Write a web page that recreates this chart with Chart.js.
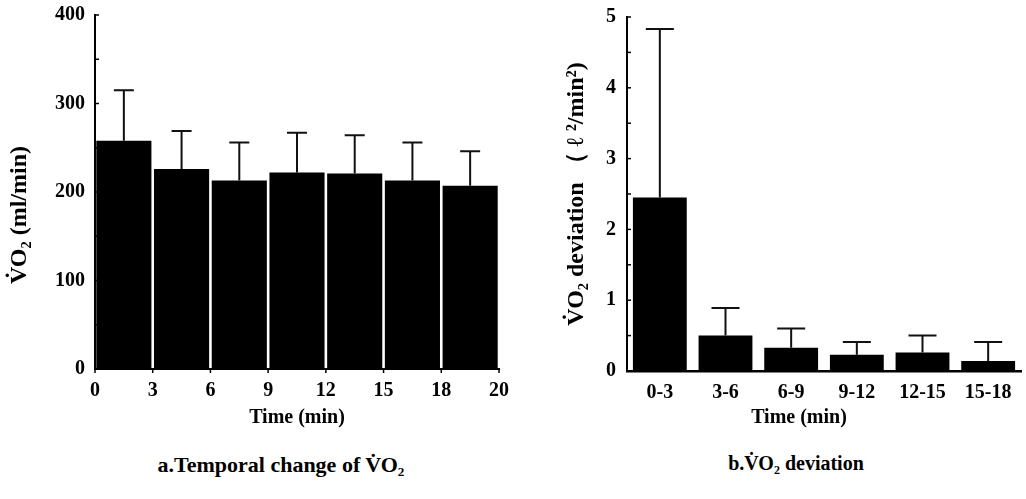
<!DOCTYPE html>
<html>
<head>
<meta charset="utf-8">
<script src="https://cdn.jsdelivr.net/npm/chart.js@4.4.1/dist/chart.umd.min.js"></script>
<style>
  html, body { margin: 0; padding: 0; background: #fff; }
  body { width: 1026px; height: 499px; position: relative; overflow: hidden; }
  .panel { position: absolute; top: 0; width: 513px; height: 440px; }
  #panelA { left: 0; }
  #panelB { left: 513px; }
  .caption {
    position: absolute; top: 452px; white-space: nowrap;
    font: bold 21px "Liberation Serif", "DejaVu Serif", serif; color: #000;
    transform: translateX(-50%);
  }
</style>
</head>
<body>
<div class="panel" id="panelA"><canvas id="chartA" width="513" height="440"></canvas></div>
<div class="panel" id="panelB"><canvas id="chartB" width="513" height="440"></canvas></div>
<div class="caption" style="left:281px;font-size:22px">a.Temporal change of V̇O₂</div>
<div class="caption" style="left:796px;font-size:20px">b.V̇O₂ deviation</div>
<script>
// Panel a: VO2 per 3-minute interval (mean and SD, ml/min)
const intervalEdges = ['0', '3', '6', '9', '12', '15', '18', '20'];
const vo2Mean = [258, 226, 213, 222, 221, 213, 207];
const vo2SD = [57, 43, 43, 45, 43, 43, 39];
const vo2Ticks = [0, 100, 200, 300, 400];

// Panel b: VO2 deviation per interval (mean and SD)
const devCategories = ['0-3', '3-6', '6-9', '9-12', '12-15', '15-18'];
const devMean = [2.45, 0.50, 0.33, 0.23, 0.26, 0.14];
const devSD = [2.38, 0.39, 0.27, 0.18, 0.24, 0.27];
const devTicks = [0, 1, 2, 3, 4, 5];

const SERIF = '"Liberation Serif", "DejaVu Serif", serif';
const tickFont = { family: SERIF, size: 20, weight: 'bold' };

// Upward-only error bars with a cap, plus small inward tick marks and axis titles
const decorPlugin = {
  id: 'decor',
  afterDatasetsDraw(chart, args, opts) {
    const ctx = chart.ctx;
    const yScale = chart.scales.y;
    const meta = chart.getDatasetMeta(0);
    const data = chart.data.datasets[0].data;
    ctx.save();
    ctx.strokeStyle = '#111';
    ctx.lineWidth = 2;
    meta.data.forEach((bar, i) => {
      const top = yScale.getPixelForValue(data[i] + opts.sd[i]);
      ctx.beginPath();
      ctx.moveTo(bar.x, bar.y);
      ctx.lineTo(bar.x, top);
      ctx.moveTo(bar.x - opts.cap / 2, top);
      ctx.lineTo(bar.x + opts.cap / 2, top);
      ctx.stroke();
    });
    // inward minor/major ticks on the value axis
    ctx.lineWidth = 1.5;
    ctx.strokeStyle = '#000';
    const ax = chart.chartArea.left;
    for (let v = yScale.min; v <= yScale.max + 1e-9; v += opts.minorStep) {
      const py = yScale.getPixelForValue(v);
      ctx.beginPath();
      ctx.moveTo(ax, py);
      ctx.lineTo(ax + 4, py);
      ctx.stroke();
    }
    // downward ticks at interval edges
    if (opts.edgeScale) {
      const xs = chart.scales[opts.edgeScale];
      const by = chart.chartArea.bottom;
      for (let i = 0; i <= xs.max; i++) {
        const px = xs.getPixelForValue(i);
        ctx.beginPath();
        ctx.moveTo(px, by);
        ctx.lineTo(px, by + 4);
        ctx.stroke();
      }
    }
    ctx.restore();
  },
  afterDraw(chart, args, opts) {
    const ctx = chart.ctx;
    ctx.save();
    ctx.fillStyle = '#000';
    ctx.textAlign = 'center';
    ctx.textBaseline = 'middle';
    (opts.titles || []).forEach(t => {
      ctx.save();
      ctx.font = 'bold ' + t.size + 'px ' + SERIF;
      ctx.translate(t.x, t.y);
      if (t.rotate) ctx.rotate(-Math.PI / 2);
      ctx.fillText(t.text, 0, 0);
      ctx.restore();
    });
    ctx.restore();
  }
};

// Fixed axis box size; the layout padding alone decides the plot edges
function fixedBox(width, height) {
  return s => {
    if (width != null) s.width = width;
    if (height != null) s.height = height;
    s.paddingTop = 0;
    s.paddingBottom = 0;
    s.paddingLeft = 0;
    s.paddingRight = 0;
  };
}

// ---- Panel a ----
new Chart(document.getElementById('chartA'), {
  type: 'bar',
  data: {
    labels: intervalEdges.slice(0, vo2Mean.length).map((e, i) => e + '-' + intervalEdges[i + 1]),
    datasets: [{
      data: vo2Mean,
      backgroundColor: '#000',
      borderWidth: 0,
      barPercentage: 0.955,
      categoryPercentage: 1.0
    }]
  },
  options: {
    responsive: false,
    animation: false,
    events: [],
    layout: { padding: { left: 0, top: 15, right: 14, bottom: 0 } },
    plugins: {
      legend: { display: false },
      tooltip: { enabled: false },
      decor: {
        sd: vo2SD, cap: 20, minorStep: 50, edgeScale: 'xe',
        titles: [
          { text: 'V̇O₂ (ml/min)', x: 20, y: 215, size: 24, rotate: true },
          { text: 'Time (min)', x: 297, y: 418, size: 20 }
        ]
      }
    },
    scales: {
      x: { type: 'category', display: false, offset: true },
      xe: {
        type: 'linear', position: 'bottom', offset: false,
        min: 0, max: intervalEdges.length - 1,
        afterBuildTicks: s => { s.ticks = intervalEdges.map((_, i) => ({ value: i })); },
        afterFit: fixedBox(null, 71),
        ticks: {
          callback: (v) => intervalEdges[v],
          font: tickFont, color: '#000', padding: 10, maxRotation: 0, autoSkip: false
        },
        grid: { display: false, drawTicks: false, offset: false },
        border: { display: true, color: '#000', width: 2 }
      },
      y: {
        min: 0, max: 400,
        afterBuildTicks: s => { s.ticks = vo2Ticks.map(v => ({ value: v })); },
        afterFit: fixedBox(95, null),
        ticks: { font: tickFont, color: '#000', padding: 10 },
        grid: { display: false, drawTicks: false },
        border: { display: true, color: '#000', width: 2 }
      }
    }
  },
  plugins: [decorPlugin]
});

// ---- Panel b ----
new Chart(document.getElementById('chartB'), {
  type: 'bar',
  data: {
    labels: devCategories,
    datasets: [{
      data: devMean,
      backgroundColor: '#000',
      borderWidth: 0,
      barPercentage: 0.82,
      categoryPercentage: 1.0
    }]
  },
  options: {
    responsive: false,
    animation: false,
    events: [],
    layout: { padding: { left: 0, top: 17, right: 5, bottom: 0 } },
    plugins: {
      legend: { display: false },
      tooltip: { enabled: false },
      decor: {
        sd: devSD, cap: 28, minorStep: 0.5,
        titles: [
          { text: 'V̇O₂ deviation （ ℓ ²/min²)', x: 64, y: 194, size: 24, rotate: true },
          { text: 'Time (min)', x: 286, y: 418, size: 20 }
        ]
      }
    },
    scales: {
      x: {
        type: 'category', offset: true,
        afterFit: fixedBox(null, 69),
        ticks: { font: tickFont, color: '#000', padding: 10, maxRotation: 0, autoSkip: false },
        grid: { display: false, drawTicks: false },
        border: { display: true, color: '#000', width: 2.5 }
      },
      y: {
        min: 0, max: 5,
        afterBuildTicks: s => { s.ticks = devTicks.map(v => ({ value: v })); },
        afterFit: fixedBox(114, null),
        ticks: { font: tickFont, color: '#000', padding: 11 },
        grid: { display: false, drawTicks: false },
        border: { display: true, color: '#000', width: 2 }
      }
    }
  },
  plugins: [decorPlugin]
});
</script>
</body>
</html>
